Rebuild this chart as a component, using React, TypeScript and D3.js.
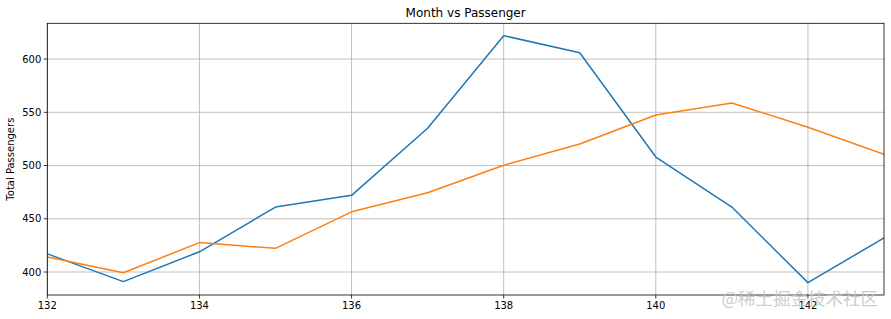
import React from "react";
import * as d3 from "d3";

const months = [132, 133, 134, 135, 136, 137, 138, 139, 140, 141, 142, 143];
const actual = [417, 391, 419, 461, 472, 535, 622, 606, 508, 461, 390, 432];
const predicted = [414, 399.3, 427.6, 422.2, 456.5, 474.5, 500.3, 520.3, 547.5, 558.8, 536, 510.5];
const xTicks = [132, 134, 136, 138, 140, 142];
const yTicks = [400, 450, 500, 550, 600];

const W = 891, H = 319;
const L = 47.3, R = 884, T = 23.3, B = 295;

export default function App() {
  const x = d3.scaleLinear().domain([132, 143]).range([L, R]);
  const all = actual.concat(predicted);
  const mn = d3.min(all)!, mx = d3.max(all)!;
  const pad = (mx - mn) * 0.05;
  const y = d3.scaleLinear().domain([mn - pad, mx + pad]).range([B, T]);
  const line = d3.line<number>().x((_, i) => x(months[i])).y((d) => y(d));
  const font = "DejaVu Sans, sans-serif";
  return (
    <svg width={W} height={H} style={{ position: "absolute", left: 0, top: 0 }} fontFamily={font}>
      <rect width={W} height={H} fill="#fff" />
      <defs>
        <clipPath id="c"><rect x={L} y={T} width={R - L} height={B - T} /></clipPath>
      </defs>
      {xTicks.map((t) => (
        <line key={"gx" + t} x1={x(t)} x2={x(t)} y1={T} y2={B} stroke="#b0b0b0" strokeWidth={0.8} />
      ))}
      {yTicks.map((t) => (
        <line key={"gy" + t} x1={L} x2={R} y1={y(t)} y2={y(t)} stroke="#b0b0b0" strokeWidth={0.8} />
      ))}
      <g clipPath="url(#c)">
        <path d={line(actual)!} fill="none" stroke="#1f77b4" strokeWidth={1.5} strokeLinejoin="round" />
        <path d={line(predicted)!} fill="none" stroke="#ff7f0e" strokeWidth={1.5} strokeLinejoin="round" />
      </g>
      <rect x={L} y={T} width={R - L} height={B - T} fill="none" stroke="#000" strokeWidth={0.8} />
      {xTicks.map((t) => (
        <g key={"tx" + t}>
          <line x1={x(t)} x2={x(t)} y1={B} y2={B + 3.5} stroke="#000" strokeWidth={0.8} />
          <text x={x(t)} y={B + 14} fontSize={10} textAnchor="middle" fill="#000">{t}</text>
        </g>
      ))}
      {yTicks.map((t) => (
        <g key={"ty" + t}>
          <line x1={L - 3.5} x2={L} y1={y(t)} y2={y(t)} stroke="#000" strokeWidth={0.8} />
          <text x={L - 6} y={y(t)} dy="0.35em" fontSize={10} textAnchor="end" fill="#000">{t}</text>
        </g>
      ))}
      <text x={(L + R) / 2} y={17} fontSize={12} textAnchor="middle" fill="#000">Month vs Passenger</text>
      <text transform={`translate(14,${(T + B) / 2}) rotate(-90)`} fontSize={10} textAnchor="middle" fill="#000">Total Passengers</text>
      <text x={878} y={305} fontSize={17.5} textAnchor="end" fill="#c4c4c4" fillOpacity={0.85} fontFamily="Noto Sans CJK SC, sans-serif">@稀土掘金技术社区</text>
    </svg>
  );
}
